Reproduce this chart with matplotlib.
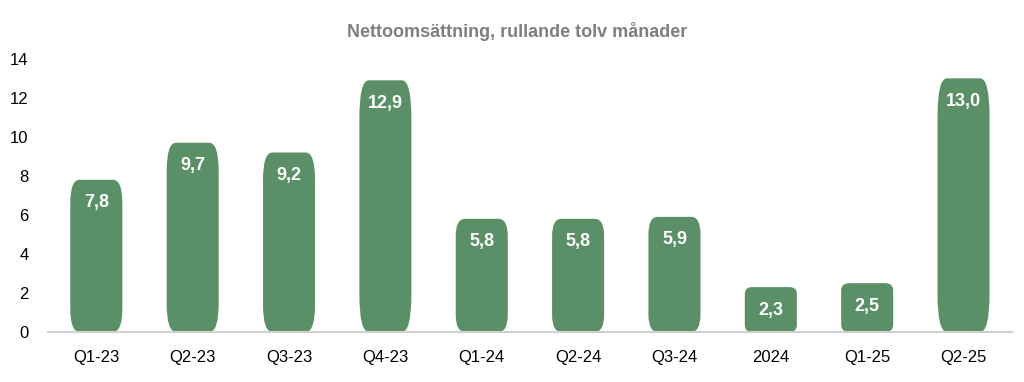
import matplotlib.pyplot as plt
from matplotlib.patches import FancyBboxPatch

categories = ["Q1-23", "Q2-23", "Q3-23", "Q4-23", "Q1-24", "Q2-24", "Q3-24", "2024", "Q1-25", "Q2-25"]
values = [7.8, 9.7, 9.2, 12.9, 5.8, 5.8, 5.9, 2.3, 2.5, 13.0]
value_labels = ["7,8", "9,7", "9,2", "12,9", "5,8", "5,8", "5,9", "2,3", "2,5", "13,0"]
yticks = [0, 2, 4, 6, 8, 10, 12, 14]

plt.rcParams['font.family'] = ['Liberation Sans', 'DejaVu Sans']
narrow = ['Liberation Sans Narrow', 'Liberation Sans', 'DejaVu Sans']

fig = plt.figure(figsize=(10.24, 3.82), dpi=100)
ax = fig.add_axes([0.047, 0.131, 0.941, 0.715])

green = "#5b8f67"
width = 0.54
ax.set_xlim(-0.5, len(categories) - 0.5)
ax.set_ylim(0, 14)

# pixels per data unit, used to shape the corners
xpx = 0.941 * 1024 / len(categories)
ypx = 0.715 * 382 / 14

for i, v in enumerate(values):
    h = v * ypx
    ry = 0.15 * h          # corners stretch with the bar height
    rx = min(9.5, 1.1 * ry)
    box = FancyBboxPatch((i - width / 2, 0), width, v,
                         boxstyle=f"round,pad=0,rounding_size={rx / xpx}",
                         mutation_aspect=(ry / ypx) / (rx / xpx), fc=green, ec="none")
    ax.add_patch(box)
    ax.text(i, v - 23 / ypx, value_labels[i], ha="center", va="center",
            color="white", fontsize=13, fontweight="bold", family=narrow)

ax.set_xticks(range(len(categories)))
ax.set_xticklabels(categories, fontsize=12)
ax.set_yticks(yticks)
ax.set_yticklabels([str(t) for t in yticks], fontsize=12)
ax.tick_params(axis="x", length=0, pad=13)
ax.tick_params(axis="y", length=0, pad=14)
for s in ["top", "right", "left"]:
    ax.spines[s].set_visible(False)
ax.spines["bottom"].set_color("#d0d0d0")
ax.spines["bottom"].set_linewidth(1.5)

fig.text(0.505, 0.918, "Nettoomsättning, rullande tolv månader", ha="center", va="center",
         color="#7f7f7f", fontsize=13, fontweight="bold", family=narrow)

fig.savefig("out.png", dpi=100)
